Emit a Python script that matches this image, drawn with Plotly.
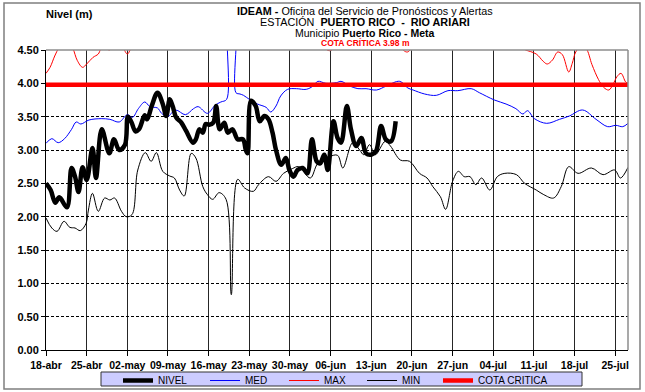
import pandas as pd
import plotly.graph_objects as go

FECHA_INICIO = pd.Timestamp("2024-04-18")

# días desde 18-abr y niveles (m)
NIVEL_DIA = [0, 0.8, 1.6, 2.3, 3.6, 4.4, 5.0, 5.6, 6.3, 7.0, 8.0, 8.6, 9.6, 10.9, 11.7, 12.6, 13.6,
             14.1, 14.7, 15.4, 16.0, 17.0, 17.4, 18.2, 19.2, 20.1, 20.7, 21.3, 21.8, 22.4, 23.3, 24.1,
             25.3, 25.8, 26.4, 27.0, 27.5, 28.1, 28.8, 29.3, 29.9, 30.7, 31.3, 32.1, 33.0, 33.9, 34.4,
             34.7, 35.3, 36.1, 36.8, 37.6, 38.3, 39.0, 39.6, 40.5, 41.3, 41.9, 42.6, 43.3, 44.2, 45.0,
             45.8, 46.6, 47.2, 47.9, 48.5, 49.5, 50.2, 50.8, 51.8, 52.5, 53.4, 54.3, 55.1, 56.0, 56.8,
             57.7, 58.5, 59.4, 60.2]
NIVEL_M = [2.50, 2.40, 2.21, 2.29, 2.14, 2.73, 2.60, 2.37, 2.74, 2.55, 3.03, 2.58, 3.31, 2.95, 3.16, 3.00, 3.08,
           3.50, 3.42, 3.28, 3.31, 3.52, 3.46, 3.66, 3.86, 3.69, 3.51, 3.76, 3.66, 3.49, 3.41, 3.29,
           3.11, 3.16, 3.31, 3.26, 3.39, 3.38, 3.41, 3.66, 3.31, 3.41, 3.26, 3.31, 3.16, 3.16, 3.00,
           2.95, 3.74, 3.66, 3.43, 3.51, 3.46, 3.26, 3.00, 2.78, 2.88, 2.70, 2.60, 2.70, 2.73, 2.65,
           3.16, 2.83, 2.80, 2.93, 2.70, 3.43, 3.18, 3.11, 3.66, 3.31, 3.06, 3.18, 2.95, 2.93, 2.98,
           3.36, 3.16, 3.13, 3.43]

MED_DIA = [0, 1.0, 2.1, 3.2, 4.4, 5.2, 6.0, 7.4, 9.5, 11.0, 12.6, 14.0, 14.9, 15.9, 17.0, 17.9, 19.2, 19.9,
           20.9, 22.3, 24.0, 25.4, 26.2, 27.8, 29.1, 30.1, 31.1, 31.5, 32.5, 32.7, 33.4, 34.0, 35.0, 36.4,
           37.9, 38.7, 39.6, 40.4, 41.6, 43.1, 44.8, 46.0, 46.8, 48.2, 50.0, 50.8, 52.3, 53.7, 55.1, 56.9,
           58.6, 60.9, 62.3, 63.2, 65.2, 67.2, 69.2, 70.9, 73.2, 74.6, 77.2, 79.2, 80.9, 82.1, 82.9, 84.1,
           86.2, 88.4, 90.1, 92.4, 94.7, 96.7, 98.1, 99.3, 100.2]
MED_M = [3.10, 3.17, 3.11, 3.17, 3.31, 3.42, 3.39, 3.45, 3.47, 3.46, 3.42, 3.53, 3.49, 3.62, 3.72, 3.65, 3.63, 3.55,
         3.50, 3.60, 3.53, 3.62, 3.65, 3.55, 3.67, 3.72, 3.76, 5.00, 5.00, 3.86, 3.84, 3.82, 3.76, 3.69,
         3.64, 3.57, 3.66, 3.81, 3.91, 3.92, 3.91, 3.96, 4.03, 4.00, 4.01, 4.03, 3.96, 3.92, 3.92, 3.90,
         3.96, 4.03, 3.93, 3.90, 3.84, 3.82, 3.89, 3.89, 3.92, 3.86, 3.75, 3.69, 3.62, 3.54, 3.59, 3.47,
         3.40, 3.46, 3.51, 3.60, 3.46, 3.35, 3.37, 3.35, 3.40]

MAX_DIA = [0, 0.7, 1.5, 2.3, 3.4, 4.6, 5.4, 6.3, 7.0, 8.1, 9.0, 9.8, 10.9, 12.0, 13.2, 14.0, 14.8, 16.5,
           19.0, 22.0, 25.0, 28.0, 30.0, 32.0, 36.0, 40.0, 44.0, 47.0, 48.8, 50.5, 54.0, 58.0, 60.8, 62.2,
           63.6, 67.0, 72.0, 77.0, 80.5, 82.3, 84.4, 85.6, 86.3, 87.2, 88.1, 88.9, 90.0, 90.6, 91.2, 92.1,
           93.0, 94.0, 95.1, 96.0, 96.9, 97.6, 98.3, 99.0, 99.8, 100.2]
MAX_M = [4.15, 4.24, 4.41, 4.55, 4.70, 4.53, 4.34, 4.24, 4.29, 4.39, 4.44, 4.58, 4.50, 4.62, 4.54, 4.44, 4.56, 4.80,
         4.90, 4.80, 4.85, 4.65, 4.52, 4.75, 4.90, 4.85, 4.70, 4.60, 4.49, 4.60, 4.80, 4.70, 4.55, 4.47,
         4.60, 4.85, 4.95, 4.80, 4.60, 4.51, 4.44, 4.33, 4.29, 4.35, 4.47, 4.43, 4.17, 4.30, 4.47, 4.56,
         4.52, 4.28, 4.06, 3.94, 3.90, 3.98, 4.10, 4.15, 4.02, 4.00]

MIN_DIA = [0, 1.0, 1.9, 3.1, 4.1, 5.0, 5.9, 6.9, 7.3, 8.0, 9.0, 10.1, 11.0, 11.8, 13.0, 13.8, 14.8, 15.8,
           17.1, 18.1, 19.0, 20.1, 21.3, 22.1, 23.0, 23.8, 25.0, 25.8, 27.0, 27.8, 28.7, 29.8, 31.0, 31.9,
           33.0, 34.2, 35.7, 36.6, 38.3, 39.6, 40.9, 42.4, 43.5, 45.5, 46.8, 48.8, 50.2, 51.1, 52.8, 54.0,
           54.7, 55.7, 56.7, 58.4, 59.3, 61.0, 62.6, 64.3, 65.6, 66.6, 67.9, 68.8, 70.0, 71.0, 72.0, 73.0,
           74.0, 75.0, 76.4, 77.7, 79.0, 81.0, 82.4, 84.4, 85.7, 87.4, 88.7, 90.0, 91.6, 93.9, 95.9, 97.9,
           98.9, 100.2]
MIN_M = [1.98, 1.83, 1.78, 1.93, 1.84, 1.83, 1.79, 1.90, 2.10, 2.35, 2.08, 2.28, 2.25, 2.28, 2.08, 2.00, 2.03, 2.70,
         2.96, 2.83, 2.96, 2.68, 2.61, 2.58, 2.40, 2.31, 2.95, 2.88, 2.45, 2.33, 2.26, 2.36, 2.26, 0.83,
         2.56, 2.43, 2.38, 2.48, 2.60, 2.53, 2.65, 2.72, 2.75, 2.58, 2.80, 2.90, 2.92, 2.73, 3.11, 3.00,
         2.93, 3.08, 2.93, 3.13, 3.06, 2.85, 2.83, 2.65, 2.58, 2.45, 2.30, 2.11, 2.53, 2.68, 2.60, 2.60,
         2.48, 2.58, 2.40, 2.60, 2.65, 2.63, 2.50, 2.40, 2.33, 2.28, 2.45, 2.75, 2.65, 2.73, 2.63, 2.70,
         2.58, 2.74]

COTA_CRITICA = 3.98
COTA_DIA = [0, 100.2]

TICK_DIAS = [0, 7, 14, 21, 28, 35, 42, 49, 56, 63, 70, 77, 84, 91, 98]
TICK_TEXTO = ["18-abr", "25-abr", "02-may", "09-may", "16-may", "23-may", "30-may", "06-jun",
              "13-jun", "20-jun", "27-jun", "04-jul", "11-jul", "18-jul", "25-jul"]

FONT = "Arial, Liberation Sans, sans-serif"


def fechas(dias):
    return FECHA_INICIO + pd.to_timedelta(dias, unit="D")


# pixel helpers for paper coordinates (plot area 46..628 x 50..350)
def px(x):
    return (x - 46) / 582


def py(y):
    return (350 - y) / 300


fig = go.Figure()
fig.add_trace(go.Scatter(x=fechas(MIN_DIA), y=MIN_M, name="MIN", mode="lines", line_shape="spline",
                         line=dict(color="black", width=1), legendrank=4, legendwidth=31))
fig.add_trace(go.Scatter(x=fechas(MED_DIA), y=MED_M, name="MED", mode="lines", line_shape="spline",
                         line=dict(color="#0000FF", width=1), legendrank=2, legendwidth=34))
fig.add_trace(go.Scatter(x=fechas(MAX_DIA), y=MAX_M, name="MAX", mode="lines", line_shape="spline",
                         line=dict(color="#FF0000", width=1), legendrank=3, legendwidth=33))
fig.add_trace(go.Scatter(x=fechas(COTA_DIA), y=[COTA_CRITICA] * len(COTA_DIA), name="COTA CRITICA",
                         mode="lines", line=dict(color="#FF0000", width=4.5), legendrank=5, legendwidth=75))
fig.add_trace(go.Scatter(x=fechas(NIVEL_DIA), y=NIVEL_M, name="NIVEL", mode="lines", line_shape="spline",
                         line=dict(color="black", width=4.5), legendrank=1, legendwidth=42))

titulo = [
    ("<b>IDEAM -</b> Oficina del Servicio de Pronósticos y Alertas", 11, 10.8, "black"),
    ("ESTACIÓN  <b>PUERTO RICO  -  RIO ARIARI</b>", 22, 10.8, "black"),
    ("Municipio <b>Puerto Rico - Meta</b>", 33, 10.5, "black"),
    ("<b>COTA CRÍTICA 3.98 m</b>", 43.5, 8.5, "#FF0000"),
]
for texto, y, size, color in titulo:
    fig.add_annotation(text=texto, x=px(365), y=py(y), xref="paper", yref="paper",
                       xanchor="center", yanchor="middle", showarrow=False,
                       font=dict(size=size, color=color, family=FONT))
fig.add_annotation(text="<b>Nivel (m)</b>", x=px(44), y=py(14), xref="paper", yref="paper",
                   xanchor="left", yanchor="middle", showarrow=False,
                   font=dict(size=11, color="black", family=FONT))

fig.update_layout(
    width=645, height=392,
    margin=dict(l=46, r=17, t=50, b=42, autoexpand=False),
    paper_bgcolor="white", plot_bgcolor="white",
    font=dict(family=FONT, color="black"),
    showlegend=True,
    legend=dict(orientation="h", x=px(118), y=py(366), xanchor="left", yanchor="top",
                bgcolor="rgba(0,0,0,0)", borderwidth=0, itemwidth=30,
                font=dict(size=10, family=FONT, color="black")),
    shapes=[
        dict(type="rect", xref="paper", yref="paper", x0=px(4), x1=px(640), y0=py(389), y1=py(3),
             line=dict(color="#7f7f7f", width=1.5), fillcolor="rgba(0,0,0,0)", layer="below"),
        dict(type="rect", xref="paper", yref="paper", x0=px(101), x1=px(582), y0=py(386), y1=py(372),
             line=dict(color="#333333", width=1), fillcolor="#CCCCFF", layer="below"),
        dict(type="line", xref="paper", yref="paper", x0=0, x1=1, y0=1, y1=1,
             line=dict(color="#8c8c8c", width=1.5)),
        dict(type="line", xref="paper", yref="paper", x0=1, x1=1, y0=0, y1=1,
             line=dict(color="#8c8c8c", width=1.5)),
    ],
)
fig.update_xaxes(
    range=[fechas(0), fechas(100.2)],
    tickvals=fechas(TICK_DIAS), ticktext=TICK_TEXTO,
    showgrid=True, gridcolor="#262626", gridwidth=1,
    showline=True, linecolor="black", linewidth=1,
    ticks="outside", ticklen=5, tickcolor="black",
    tickfont=dict(size=10.5, weight="bold", family=FONT, color="black"),
)
fig.update_yaxes(
    range=[0, 4.5], dtick=0.5, tick0=0, tickformat=".2f",
    showgrid=True, gridcolor="black", gridwidth=1, griddash="3px,2px",
    zeroline=False, showline=True, linecolor="black", linewidth=1,
    ticks="outside", ticklen=4, tickcolor="black",
    tickfont=dict(size=11, weight="bold", family=FONT, color="black"),
)

# la página trae 8px de margen en <body>; se quita para que el gráfico quede en (0,0)
fig.write_html("out.html", config={"displayModeBar": False},
               post_script="document.body.style.margin='0';document.body.style.overflow='hidden';")
